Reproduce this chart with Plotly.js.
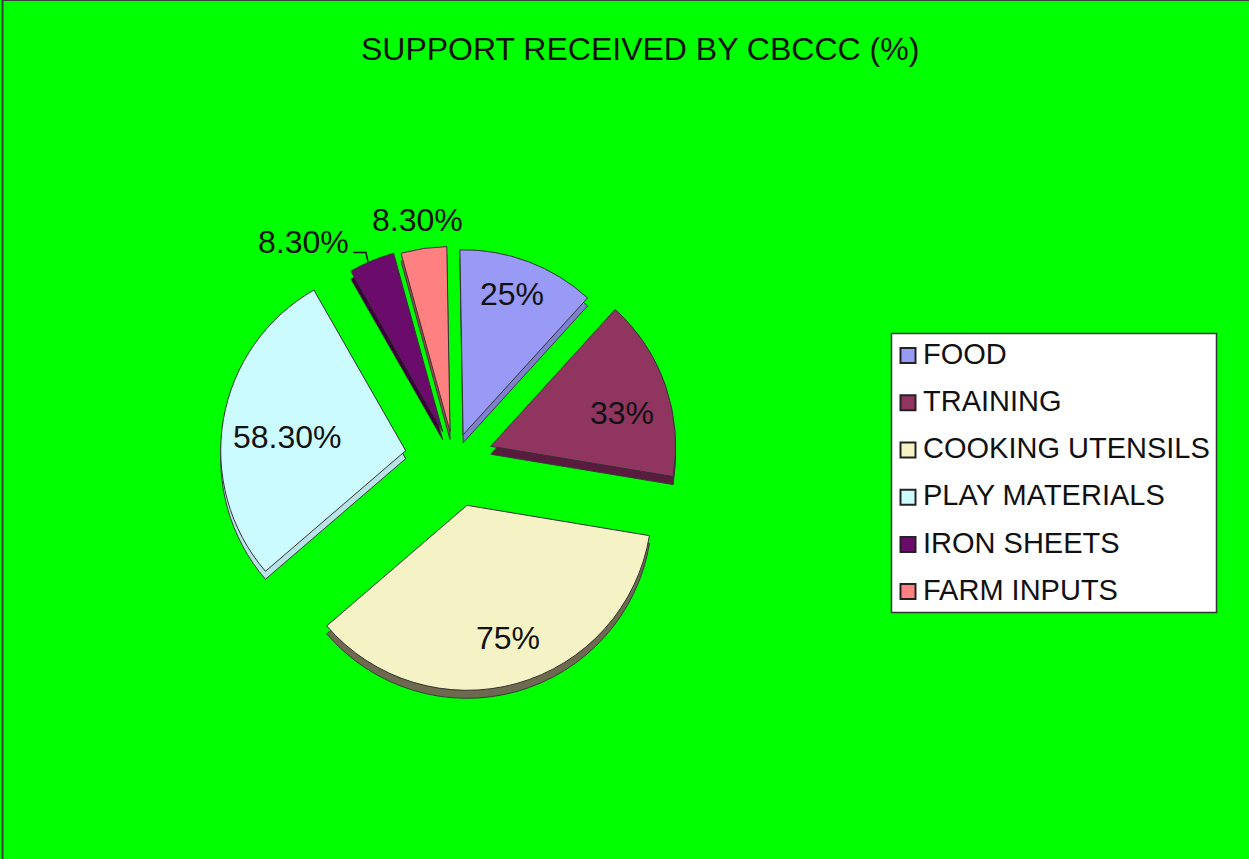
<!DOCTYPE html>
<html>
<head>
<meta charset="utf-8">
<script src="https://cdn.plot.ly/plotly-3.0.1.min.js"></script>
<style>html,body{margin:0;padding:0;background:#00ff00;overflow:hidden}#chart{width:1249px;height:859px}</style>
</head>
<body>
<div id="chart"></div>
<script>
const categories = ['FOOD','TRAINING','COOKING UTENSILS','PLAY MATERIALS','IRON SHEETS','FARM INPUTS'];
const values = [25,33,75,58.3,8.3,8.3];
const valueLabels = ['25%','33%','75%','58.30%','8.30%','8.30%'];
const pulls = [0.14,0.21,0.26,0.265,0.16,0.15];
const faceColors = ['#9999f6','#8f3560','#f5f3c6','#ccfbff','#6b0b6b','#ff8080'];
const sideColors = ['#7f7fd0','#5a1c3e','#6e6a50','#b8e2e6','#3d003d','#a04e4e'];
const labelPx = [[512,294],[622,413],[508,638],[287,437],[303,242],[418,220]];

const W = 1249, H = 859;
const fx = p => p / W;
const fy = p => 1 - p / H;
const depth = 8;
const cx = 454, cy = 459, half = 234;

const legendText = categories.map(c => '<span style="font-size:29px">' + c + '</span>');

const side = {
  type: 'pie', labels: legendText, values: values, pull: pulls, sort: false,
  direction: 'clockwise', rotation: -1, textinfo: 'none', showlegend: false, hoverinfo: 'skip',
  domain: {x: [fx(cx - half), fx(cx + half)], y: [fy(cy + half + depth), fy(cy - half + depth)]},
  marker: {colors: sideColors, line: {color: '#3a3a3a', width: 1}}
};
const face = {
  type: 'pie', labels: legendText, values: values, pull: pulls, sort: false,
  direction: 'clockwise', rotation: -1, textinfo: 'none', showlegend: true,
  domain: {x: [fx(cx - half), fx(cx + half)], y: [fy(cy + half), fy(cy - half)]},
  marker: {colors: faceColors, line: {color: '#333333', width: 1}}
};

const annotations = valueLabels.map((t, i) => ({
  text: t, xref: 'paper', yref: 'paper', x: fx(labelPx[i][0]), y: fy(labelPx[i][1]),
  xanchor: 'center', yanchor: 'middle', showarrow: false,
  font: {family: 'Liberation Sans', size: 32, color: '#111111'}
}));

const layout = {
  width: W, height: H, margin: {l: 0, r: 0, t: 0, b: 0},
  paper_bgcolor: '#00ff00', plot_bgcolor: '#00ff00',
  title: {text: 'SUPPORT RECEIVED BY CBCCC (%)', x: 0.5125, xanchor: 'center', y: 1 - 49/H, yanchor: 'middle',
    font: {family: 'Liberation Sans', size: 32, color: '#111111'}},
  legend: {x: fx(883), y: fy(322), xanchor: 'left', yanchor: 'top', bgcolor: 'rgba(0,0,0,0)',
    borderwidth: 0, font: {family: 'Liberation Sans', size: 34, color: '#111111'}, traceorder: 'normal'},
  annotations: annotations,
  shapes: [
    {type:'rect', xref:'paper', yref:'paper', x0:fx(891.5), x1:fx(1216.5), y0:fy(333.5), y1:fy(612.5),
      fillcolor:'#ffffff', line:{color:'#333333', width:1.5}, layer:'below'},
    {type:'rect', xref:'paper', yref:'paper', x0:fx(2.5), x1:fx(1260), y0:fy(0), y1:fy(870),
      fillcolor:'rgba(0,0,0,0)', line:{color:'#3d3d3d', width:2}, layer:'below'},
    {type:'path', xref:'paper', yref:'paper',
      path:`M ${fx(353)} ${fy(252.5)} L ${fx(366)} ${fy(252.5)} L ${fx(368)} ${fy(262)}`,
      line:{color:'#111111', width:1.5}}
  ]
};
Plotly.newPlot('chart', [side, face], layout, {displayModeBar: false, staticPlot: true}).then(() => {
  document.querySelectorAll('#chart .legend path.legendpie').forEach(p => {
    const t = p.getAttribute('transform') || '';
    p.setAttribute('transform', t + ' translate(5,5) scale(1.25)');
    p.style.strokeWidth = '1.6px';
    p.style.stroke = '#222222';
  });
});
</script>
</body>
</html>
